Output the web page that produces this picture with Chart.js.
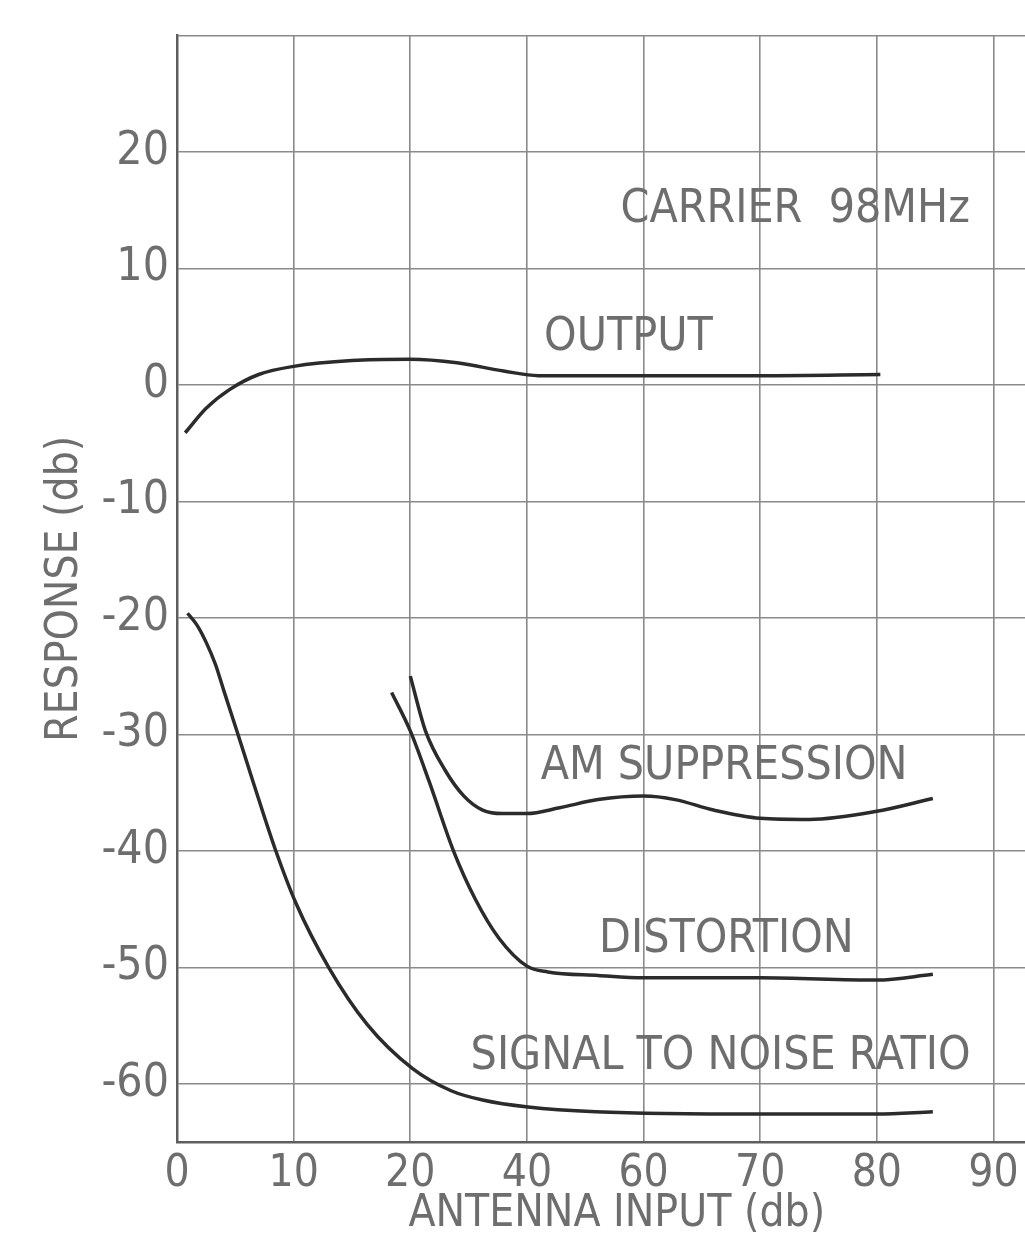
<!DOCTYPE html>
<html>
<head>
<meta charset="utf-8">
<script src="https://cdn.jsdelivr.net/npm/chart.js@4.4.1/dist/chart.umd.min.js"></script>
<style>
  html, body { margin: 0; padding: 0; background: #fff; }
  #wrap { width: 1025px; height: 1238px; }
</style>
</head>
<body>
<div id="wrap"><canvas id="chart" width="1025" height="1238"></canvas></div>
<script>
// x positions are grid positions (0..7), labelled with the printed values below
const xTickLabels = ["0", "10", "20", "40", "60", "70", "80", "90"];
const yTickValues = [-60, -50, -40, -30, -20, -10, 0, 10, 20, 30];

const outputX = [0.07, 0.25, 0.45, 0.7, 1.0, 1.5, 2.0, 2.4, 2.8, 3.1, 3.5, 4.0, 5.0, 6.03];
const outputY = [-4.1, -2.0, -0.4, 0.9, 1.6, 2.1, 2.2, 1.9, 1.2, 0.8, 0.8, 0.8, 0.8, 0.9];

const amX = [2.0, 2.13, 2.3, 2.46, 2.62, 2.79, 3.0, 3.28, 3.61, 4.0, 4.27, 4.6, 5.0, 5.42, 6.0, 6.48];
const amY = [-25.0, -29.7, -33.1, -35.3, -36.5, -36.8, -36.8, -36.3, -35.6, -35.3, -35.6, -36.5, -37.2, -37.3, -36.6, -35.5];

const distX = [1.84, 2.0, 2.16, 2.37, 2.56, 2.76, 3.0, 3.18, 3.61, 4.0, 5.0, 6.0, 6.48];
const distY = [-26.4, -29.7, -34.0, -40.0, -44.2, -47.5, -49.9, -50.4, -50.7, -50.9, -50.9, -51.1, -50.6];

const snrX = [0.09, 0.17, 0.25, 0.33, 0.4, 0.51, 0.65, 0.84, 1.02, 1.3, 1.63, 2.02, 2.35, 2.62, 3.01, 3.59, 5.0, 6.0, 6.48];
const snrY = [-19.6, -20.6, -22.1, -24.0, -26.2, -29.6, -34.0, -39.8, -44.5, -50.0, -54.9, -58.7, -60.6, -61.4, -62.0, -62.4, -62.6, -62.6, -62.4];

const noteTexts = ["CARRIER  98MHz", "OUTPUT", "AM SUPPRESSION", "DISTORTION", "SIGNAL TO NOISE RATIO"];
const noteX = [5.3, 3.87, 4.69, 4.71, 4.66];
const noteY = [15.0, 4.0, -32.8, -47.7, -57.7];

const xTitle = "ANTENNA INPUT (db)";
const yTitle = "RESPONSE (db)";

const FONT = "'Liberation Sans Narrow', 'DejaVu Sans Condensed', 'Liberation Sans', sans-serif";
const TEXT_COLOR = "#6e6e6e";
const INK = "#2b2b2b";

const pts = (xs, ys) => xs.map((x, i) => ({ x, y: ys[i] }));

const curve = (label, data) => ({
  label,
  data,
  borderColor: INK,
  borderWidth: 3.5,
  pointRadius: 0,
  fill: false,
  cubicInterpolationMode: "monotone",
});

// curve names and the x title, written on the plot
const notesPlugin = {
  id: "notes",
  afterDatasetsDraw(chart) {
    const { ctx, scales, chartArea } = chart;
    ctx.save();
    ctx.fillStyle = TEXT_COLOR;
    ctx.font = "46px " + FONT;
    ctx.textAlign = "center";
    ctx.textBaseline = "middle";
    noteTexts.forEach((t, i) => {
      ctx.fillText(t, scales.x.getPixelForValue(noteX[i]), scales.y.getPixelForValue(noteY[i]));
    });
    ctx.font = "44px " + FONT;
    ctx.fillText(xTitle, scales.x.getPixelForValue(3.77), chartArea.bottom + 73);
    ctx.restore();
  },
};

new Chart(document.getElementById("chart"), {
  type: "line",
  data: {
    datasets: [
      curve("Output", pts(outputX, outputY)),
      curve("AM suppression", pts(amX, amY)),
      curve("Distortion", pts(distX, distY)),
      curve("Signal to noise ratio", pts(snrX, snrY)),
    ],
  },
  options: {
    responsive: false,
    animation: false,
    layout: { padding: { top: 32, right: 0, left: 0, bottom: 0 } },
    plugins: { legend: { display: false }, tooltip: { enabled: false } },
    scales: {
      x: {
        type: "linear",
        min: 0,
        max: 7.27,
        afterBuildTicks: (scale) => {
          scale.ticks = xTickLabels.map((_, i) => ({ value: i }));
        },
        afterFit: (scale) => { scale.height = 96; },
        grid: { color: "#8a8a8a", lineWidth: 1.6, drawTicks: false },
        border: { color: "#5e5e5e", width: 2.5 },
        ticks: {
          color: TEXT_COLOR,
          font: { family: FONT, size: 44 },
          padding: 6,
          maxRotation: 0,
          callback: (v) => xTickLabels[v],
        },
      },
      y: {
        min: -65,
        max: 30,
        afterBuildTicks: (scale) => {
          scale.ticks = yTickValues.map((v) => ({ value: v }));
        },
        afterFit: (scale) => { scale.width = 177; },
        grid: { color: "#8a8a8a", lineWidth: 1.6, drawTicks: false },
        border: { color: "#5e5e5e", width: 2.5 },
        ticks: {
          color: TEXT_COLOR,
          font: { family: FONT, size: 46 },
          padding: 8,
          callback: (v) => (v === 30 ? "" : String(v)),
        },
        title: {
          display: true,
          text: yTitle,
          color: TEXT_COLOR,
          font: { family: FONT, size: 44, lineHeight: 1 },
          padding: { top: 44, bottom: 0 },
        },
      },
    },
  },
  plugins: [notesPlugin],
});
</script>
</body>
</html>
